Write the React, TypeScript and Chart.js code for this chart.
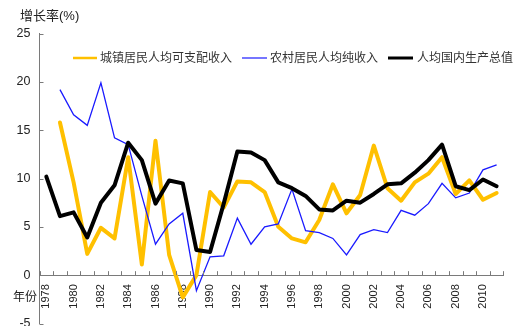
import React, { useEffect, useRef } from 'react';
import { Chart, registerables } from 'chart.js';

Chart.register(...registerables);

const years = [
  '1978', '1979', '1980', '1981', '1982', '1983', '1984', '1985', '1986', '1987',
  '1988', '1989', '1990', '1991', '1992', '1993', '1994', '1995', '1996', '1997',
  '1998', '1999', '2000', '2001', '2002', '2003', '2004', '2005', '2006', '2007',
  '2008', '2009', '2010', '2011',
];

const urbanIncome = [
  null, 15.8, 9.6, 2.2, 4.9, 3.8, 12.2, 1.1, 13.9, 2.1,
  -2.3, 0.0, 8.6, 7.0, 9.7, 9.6, 8.6, 5.0, 3.8, 3.4,
  5.7, 9.4, 6.4, 8.3, 13.4, 9.0, 7.7, 9.6, 10.5, 12.2,
  8.4, 9.8, 7.8, 8.5,
];

const ruralIncome = [
  null, 19.2, 16.6, 15.5, 19.9, 14.2, 13.5, 8.2, 3.2, 5.3,
  6.4, -1.6, 1.9, 2.0, 5.9, 3.2, 5.0, 5.3, 8.9, 4.6,
  4.4, 3.8, 2.1, 4.2, 4.7, 4.4, 6.7, 6.2, 7.4, 9.5,
  8.0, 8.5, 10.9, 11.4,
];

const gdpPerCapita = [
  10.2, 6.1, 6.5, 3.9, 7.5, 9.3, 13.7, 11.9, 7.4, 9.8,
  9.5, 2.6, 2.4, 7.4, 12.8, 12.7, 11.9, 9.6, 9.0, 8.2,
  6.8, 6.7, 7.7, 7.5, 8.4, 9.4, 9.5, 10.6, 11.9, 13.5,
  9.2, 8.8, 9.9, 9.2,
];

const seriesLabels = ['城镇居民人均可支配收入', '农村居民人均纯收入', '人均国内生产总值'];
const yTickMin = -5;
const yTickMax = 25;
const yTickStep = 5;
const yTitle = '增长率(%)';
const xTitle = '年份';

const FONT = "'Liberation Sans', 'Noto Sans CJK SC', sans-serif";
const AXIS = '#7a7a7a';
const TEXT = '#222222';

const legendLayout = [
  { x: 73, w: 24, tx: 100, lw: 2.5 },
  { x: 242, w: 25, tx: 270, lw: 1.2 },
  { x: 388, w: 25, tx: 417, lw: 3 },
];

const decorPlugin = {
  id: 'decor',
  afterDraw(chart: any) {
    const ctx = chart.ctx;
    const xs = chart.scales.x;
    const ys = chart.scales.y;
    const y0 = ys.getPixelForValue(0);
    const left = chart.chartArea.left;
    ctx.save();
    ctx.strokeStyle = AXIS;
    ctx.lineWidth = 1;
    const n = chart.data.labels.length;
    const step = (xs.right - xs.left) / n;
    for (let i = 0; i <= n; i++) {
      const px = Math.round(xs.left + i * step) + 0.5;
      ctx.beginPath();
      ctx.moveTo(px, y0);
      ctx.lineTo(px, y0 - 4);
      ctx.stroke();
    }
    for (let v = yTickMin; v <= yTickMax; v += yTickStep) {
      const py = Math.round(ys.getPixelForValue(v)) + 0.5;
      ctx.beginPath();
      ctx.moveTo(left, py);
      ctx.lineTo(left + 4, py);
      ctx.stroke();
    }
    // legend
    ctx.font = `12px ${FONT}`;
    ctx.textBaseline = 'middle';
    ctx.textAlign = 'left';
    const ly = 58;
    chart.data.datasets.forEach((ds: any, i: number) => {
      const L = legendLayout[i];
      ctx.strokeStyle = ds.borderColor;
      ctx.lineWidth = L.lw;
      ctx.beginPath();
      ctx.moveTo(L.x, ly);
      ctx.lineTo(L.x + L.w, ly);
      ctx.stroke();
      ctx.fillStyle = '#333333';
      ctx.fillText(ds.label, L.tx, ly + 1);
    });
    // titles
    ctx.fillStyle = TEXT;
    ctx.font = `13px ${FONT}`;
    ctx.fillText(yTitle, 20, 16);
    ctx.font = `12px ${FONT}`;
    ctx.fillText(xTitle, 13, 298);
    ctx.restore();
  },
};

export default function App() {
  const ref = useRef<HTMLCanvasElement | null>(null);
  useEffect(() => {
    if (!ref.current) return;
    const chart = new Chart(ref.current, {
      type: 'line',
      data: {
        labels: years,
        datasets: [
          {
            label: seriesLabels[0],
            data: urbanIncome,
            borderColor: '#FFC000',
            backgroundColor: '#FFC000',
            borderWidth: 4,
            borderJoinStyle: 'round',
            borderCapStyle: 'round',
            pointRadius: 0,
            tension: 0,
            order: 3,
          },
          {
            label: seriesLabels[1],
            data: ruralIncome,
            borderColor: '#1a1aff',
            backgroundColor: '#1a1aff',
            borderWidth: 1.3,
            pointRadius: 0,
            tension: 0,
            order: 2,
          },
          {
            label: seriesLabels[2],
            data: gdpPerCapita,
            borderColor: '#000000',
            backgroundColor: '#000000',
            borderWidth: 4,
            borderJoinStyle: 'round',
            borderCapStyle: 'round',
            pointRadius: 0,
            tension: 0,
            order: 1,
          },
        ],
      },
      options: {
        animation: false,
        responsive: false,
        devicePixelRatio: 1,
        layout: { padding: { left: 8, right: 12, top: 33.5, bottom: 16.5 } },
        plugins: {
          legend: { display: false },
          tooltip: { enabled: false },
        },
        scales: {
          x: {
            type: 'category',
            position: { y: 0 } as any,
            offset: true,
            grid: { display: true, drawOnChartArea: false, drawTicks: false, offset: true },
            border: { display: true, color: AXIS, width: 1 },
            ticks: {
              autoSkip: false,
              minRotation: 90,
              maxRotation: 90,
              padding: 9,
              color: TEXT,
              font: { family: FONT, size: 11 },
              callback: (_v: any, i: number) => (i % 2 === 0 ? years[i] : ''),
            },
          },
          y: {
            min: yTickMin,
            max: yTickMax,
            grid: { display: true, drawOnChartArea: false, drawTicks: false },
            border: { display: true, color: AXIS, width: 1 },
            ticks: {
              stepSize: yTickStep,
              padding: 9,
              color: TEXT,
              font: { family: FONT, size: 12.5 },
            },
            afterFit: (scale: any) => {
              scale.width = 31.5;
            },
          },
        },
      },
      plugins: [decorPlugin],
    });
    return () => chart.destroy();
  }, []);
  return (
    <div style={{ position: 'fixed', left: 0, top: 0, width: 519, height: 340 }}>
      <canvas ref={ref} width={519} height={340} style={{ width: 519, height: 340 }} />
    </div>
  );
}
